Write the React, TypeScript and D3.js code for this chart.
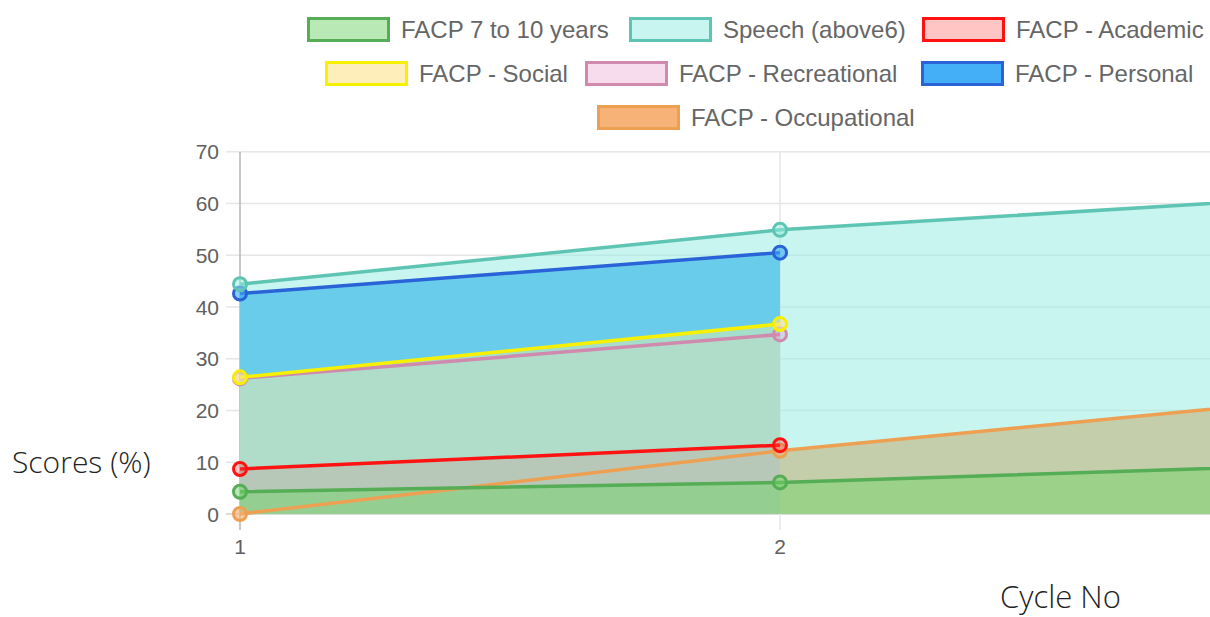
import { useEffect, useRef } from "react";
import * as d3 from "d3";

const W = 1210;
const H = 617;
const CYCLES: number[] = [1, 2, 3];
const Y_TICKS: number[] = [0, 10, 20, 30, 40, 50, 60, 70];

const FACP_7_10: number[] = [4.3, 6.1, 9.5];
const SPEECH: number[] = [44.4, 54.9, 61.3];
const ACADEMIC: number[] = [8.7, 13.3];
const SOCIAL: number[] = [26.4, 36.7];
const RECREATIONAL: number[] = [26.2, 34.7];
const PERSONAL: number[] = [42.6, 50.5];
const OCCUPATIONAL: number[] = [0, 12.2, 22.3];

type Series = {
  label: string;
  values: number[];
  stroke: string;
  fill: string;
  alpha: number;
};

// legend order
const SERIES: Series[] = [
  { label: "FACP 7 to 10 years", values: FACP_7_10, stroke: "#55ad55", fill: "rgb(115,212,105)", alpha: 0.5 },
  { label: "Speech (above6)", values: SPEECH, stroke: "#5ec4b4", fill: "rgb(149,236,224)", alpha: 0.52 },
  { label: "FACP - Academic", values: ACADEMIC, stroke: "#ff1212", fill: "rgb(255,70,70)", alpha: 0.32 },
  { label: "FACP - Social", values: SOCIAL, stroke: "#f7f000", fill: "rgb(253,229,148)", alpha: 0.65 },
  { label: "FACP - Recreational", values: RECREATIONAL, stroke: "#d08aae", fill: "rgb(230,140,200)", alpha: 0.3 },
  { label: "FACP - Personal", values: PERSONAL, stroke: "#2a62d8", fill: "rgb(58,170,245)", alpha: 1 },
  { label: "FACP - Occupational", values: OCCUPATIONAL, stroke: "#eda052", fill: "rgb(247,174,112)", alpha: 1 },
];

// legend box left edges and row centres
const LEGEND_POS = [
  [307, 30], [629, 30], [922, 30],
  [325, 74], [585, 74], [921, 74],
  [597, 118],
];

const App = () => {
  const svgRef = useRef<SVGSVGElement | null>(null);

  useEffect(() => {
    if (!svgRef.current) return;
    const svg = d3.select(svgRef.current);
    svg.selectAll("*").remove();

    const x = d3.scaleLinear().domain([1, 3]).range([240, 1320]);
    const y = d3.scaleLinear().domain([0, 70]).range([514, 151.7]);

    svg
      .append("defs")
      .append("clipPath")
      .attr("id", "plot")
      .append("rect")
      .attr("x", 226)
      .attr("y", 140)
      .attr("width", W - 226)
      .attr("height", 390);

    // grid
    const grid = svg.append("g");
    grid
      .selectAll("line.h")
      .data(Y_TICKS)
      .join("line")
      .attr("x1", 226)
      .attr("x2", W)
      .attr("y1", (d) => y(d))
      .attr("y2", (d) => y(d))
      .attr("stroke", (d) => (d === 0 ? "#d0d0d0" : "#e6e6e6"))
      .attr("stroke-width", 1.5);
    grid
      .selectAll("line.v")
      .data(CYCLES.filter((c) => x(c) < W))
      .join("line")
      .attr("x1", (d) => x(d))
      .attr("x2", (d) => x(d))
      .attr("y1", y(70))
      .attr("y2", 530)
      .attr("stroke", (d) => (d === 1 ? "#b4b4b4" : "#e6e6e6"))
      .attr("stroke-width", 1.5);

    // y tick labels
    svg
      .append("g")
      .selectAll("text")
      .data(Y_TICKS)
      .join("text")
      .attr("x", 219)
      .attr("y", (d) => y(d))
      .attr("dy", "0.36em")
      .attr("text-anchor", "end")
      .attr("font-family", "Liberation Sans, Arial, sans-serif")
      .attr("font-size", 21)
      .attr("fill", "#606060")
      .text((d) => d);

    svg
      .append("g")
      .selectAll("text")
      .data(CYCLES.filter((c) => x(c) < W))
      .join("text")
      .attr("x", (d) => x(d))
      .attr("y", 554)
      .attr("text-anchor", "middle")
      .attr("font-family", "Liberation Sans, Arial, sans-serif")
      .attr("font-size", 21)
      .attr("fill", "#606060")
      .text((d) => d);

    const plot = svg.append("g").attr("clip-path", "url(#plot)");
    const area = d3
      .area<number>()
      .x((_, i) => x(CYCLES[i]))
      .y0(y(0))
      .y1((d) => y(d));
    const line = d3
      .line<number>()
      .x((_, i) => x(CYCLES[i]))
      .y((d) => y(d));

    const order = [...SERIES].reverse();

    // all fills first, last dataset at the bottom
    order.forEach((s) => {
      plot
        .append("path")
        .datum(s.values)
        .attr("d", area)
        .attr("fill", s.fill)
        .attr("fill-opacity", s.alpha);
    });

    // then lines and points
    order.forEach((s) => {
      const g = plot.append("g");
      g.append("path")
        .datum(s.values)
        .attr("d", line)
        .attr("fill", "none")
        .attr("stroke", s.stroke)
        .attr("stroke-width", 3.5)
        .attr("stroke-linejoin", "round");
      g.selectAll("circle")
        .data(s.values)
        .join("circle")
        .attr("cx", (_, i) => x(CYCLES[i]))
        .attr("cy", (d) => y(d))
        .attr("r", 6.5)
        .attr("fill", s.fill)
        .attr("fill-opacity", Math.min(s.alpha, 0.6))
        .attr("stroke", s.stroke)
        .attr("stroke-width", 3);
    });

    // legend
    const legend = svg.append("g");
    SERIES.forEach((s, i) => {
      const [lx, ly] = LEGEND_POS[i];
      const item = legend.append("g");
      item
        .append("rect")
        .attr("x", lx + 1.5)
        .attr("y", ly - 11.5)
        .attr("width", 80)
        .attr("height", 22)
        .attr("fill", "#fff");
      item
        .append("rect")
        .attr("x", lx + 1.5)
        .attr("y", ly - 11.5)
        .attr("width", 80)
        .attr("height", 22)
        .attr("fill", s.fill)
        .attr("fill-opacity", s.alpha === 1 ? 0.95 : s.alpha)
        .attr("stroke", s.stroke)
        .attr("stroke-width", 3);
      item
        .append("text")
        .attr("x", lx + 94)
        .attr("y", ly - 1)
        .attr("dy", "0.36em")
        .attr("font-family", "Liberation Sans, Arial, sans-serif")
        .attr("font-size", 24)
        .attr("fill", "#666")
        .text(s.label);
    });

    // axis titles
    svg
      .append("text")
      .attr("x", 12)
      .attr("y", 473)
      .attr("font-family", "Open Sans, sans-serif")
      .attr("font-weight", 300)
      .attr("font-size", 30)
      .attr("fill", "#222")
      .text("Scores (%)");
    svg
      .append("text")
      .attr("x", 1000)
      .attr("y", 608)
      .attr("font-family", "Open Sans, sans-serif")
      .attr("font-weight", 300)
      .attr("font-size", 31)
      .attr("fill", "#222")
      .text("Cycle No");
  }, []);

  return (
    <div style={{ position: "absolute", left: 0, top: 0 }}>
      <svg ref={svgRef} width={W} height={H} style={{ display: "block" }} />
    </div>
  );
};

export default App;
